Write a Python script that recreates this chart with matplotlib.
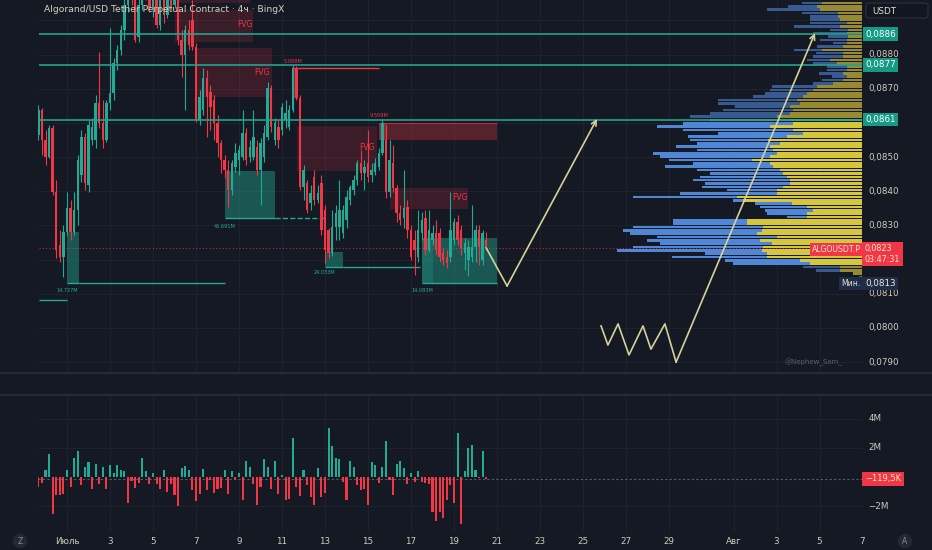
import numpy as np
import matplotlib
matplotlib.use('Agg')
import matplotlib.pyplot as plt
from matplotlib.patches import Rectangle, FancyBboxPatch
from matplotlib.transforms import blended_transform_factory as btf
from matplotlib.lines import Line2D

plt.rcParams['font.family'] = ['DejaVu Sans']

# ---------------- data ----------------
opens = [.08565, .08638, .08550, .08500, .08585, .08398, .08243, .08208, .08281, .08351,
         .08281, .08345, .08448, .08559, .08419, .08550, .08550, .08659, .08600, .08550,
         .08659, .08688, .08776, .08814, .08872, .08945, .09004, .08960, .08852, .08945,
         .09019, .08975, .08937, .08989, .08887, .08960, .08916, .08975, .08945, .08989,
         .08843, .08799, .08872, .08901, .08822, .08609, .08638, .08732, .08691, .08667,
         .08600, .08541, .08492, .08462, .08404, .08471, .08492, .08500, .08571, .08500,
         .08500, .08530, .08462, .08500, .08559, .08702, .08550, .08588, .08579, .08609,
         .08588, .08638, .08761, .08673, .08413, .08424, .08366, .08442, .08375, .08424,
         .08345, .08287, .08219, .08296, .08296, .08278, .08316, .08375, .08404, .08433,
         .08483, .08454, .08483, .08448, .08457, .08471, .08512, .08550, .08398, .08483,
         .08410, .08337, .08322, .08354, .08287, .08258, .08208, .08278, .08322, .08228,
         .08258, .08278, .08278, .08219, .08208, .08208, .08258, .08310, .08287, .08219,
         .08199, .08208, .08237, .08287, .08199, .08258]
highs = [.08653, .08644, .08579, .08594, .08594, .08433, .08287, .08301, .08398, .08375,
         .08398, .08506, .08579, .08571, .08609, .08615, .08682, .08808, .08667, .08667,
         .08878, .08790, .08828, .08887, .08989, .09048, .09062, .09019, .09004, .09062,
         .09062, .09033, .09048, .09033, .09004, .09019, .09033, .09048, .09048, .09033,
         .08872, .08887, .08901, .08960, .08834, .08697, .08761, .08755, .08711, .08682,
         .08623, .08550, .08506, .08492, .08492, .08541, .08536, .08638, .08585, .08550,
         .08638, .08550, .08556, .08594, .08720, .08711, .08615, .08609, .08659, .08667,
         .08653, .08770, .08767, .08682, .08477, .08433, .08419, .08462, .08419, .08448,
         .08360, .08293, .08345, .08360, .08433, .08360, .08404, .08419, .08448, .08492,
         .08521, .08492, .08579, .08483, .08498, .08527, .08609, .08594, .08550, .08536,
         .08419, .08360, .08462, .08375, .08301, .08287, .08345, .08339, .08345, .08345,
         .08301, .08316, .08293, .08234, .08228, .08398, .08322, .08331, .08301, .08263,
         .08258, .08360, .08301, .08301, .08287, .08281]
lows = [.08550, .08506, .08477, .08498, .08389, .08205, .08193, .08149, .08272, .08258,
        .08272, .08301, .08427, .08404, .08398, .08536, .08527, .08585, .08527, .08544,
        .08638, .08667, .08755, .08799, .08843, .08925, .08945, .08837, .08837, .08931,
        .08960, .08925, .08910, .08878, .08872, .08893, .08907, .08931, .08937, .08828,
        .08735, .08638, .08814, .08814, .08603, .08594, .08623, .08559, .08579, .08550,
        .08500, .08454, .08439, .08354, .08389, .08457, .08448, .08492, .08477, .08486,
        .08492, .08448, .08360, .08486, .08550, .08574, .08536, .08527, .08565, .08585,
        .08579, .08632, .08667, .08404, .08375, .08337, .08345, .08360, .08366, .08272,
        .08190, .08205, .08211, .08258, .08258, .08263, .08293, .08360, .08389, .08419,
        .08433, .08404, .08427, .08427, .08448, .08462, .08506, .08380, .08383, .08398,
        .08310, .08301, .08293, .08263, .08199, .08155, .08193, .08258, .08214, .08222,
        .08243, .08214, .08193, .08184, .08176, .08193, .08243, .08243, .08214, .08170,
        .08152, .08193, .08193, .08184, .08184, .08228]
closes = [.08638, .08550, .08500, .08585, .08398, .08228, .08208, .08281, .08351, .08281,
          .08345, .08492, .08559, .08424, .08594, .08588, .08659, .08600, .08550, .08659,
          .08688, .08776, .08814, .08872, .08945, .09004, .08960, .08843, .08945, .09019,
          .08975, .08937, .08989, .08887, .08960, .08916, .08975, .08945, .08989, .08843,
          .08799, .08872, .08828, .08822, .08609, .08676, .08732, .08676, .08647, .08600,
          .08541, .08492, .08462, .08404, .08483, .08512, .08521, .08571, .08492, .08530,
          .08559, .08462, .08541, .08571, .08702, .08588, .08600, .08550, .08647, .08629,
          .08638, .08761, .08673, .08413, .08462, .08345, .08395, .08375, .08395, .08287,
          .08228, .08219, .08296, .08337, .08345, .08345, .08383, .08413, .08433, .08483,
          .08454, .08471, .08442, .08462, .08483, .08512, .08600, .08398, .08492, .08410,
          .08337, .08316, .08351, .08287, .08208, .08228, .08287, .08316, .08228, .08287,
          .08278, .08228, .08208, .08199, .08190, .08287, .08310, .08258, .08234, .08249,
          .08237, .08237, .08287, .08237, .08278, .08234]

# volume delta (millions)
delta = [-0.7, -0.4, 0.5, 1.6, -2.55, -1.2, -1.2, -1.15, 0.5, -0.7,
         1.3, 1.8, -0.55, 0.7, 1.0, -0.8, 0.9, -0.45, 0.7, -0.8,
         0.85, 0.25, 0.85, 0.5, 0.4, -1.75, -0.3, -0.75, -0.4, 1.3,
         0.4, -0.5, 0.25, -0.45, -0.8, 0.5, -1.0, -0.45, -1.2, -2.0,
         0.65, 0.75, 0.5, -0.9, -1.65, -1.15, 0.55, -0.9, -0.2, -1.1,
         -0.8, -0.75, 0.45, -1.15, 0.4, -0.2, 0.25, -1.55, 1.1, 0.7,
         -0.5, -1.9, -0.7, 1.2,
         0.7, -0.8, 1.1, -1.15, 0.15, -1.55, -1.5, 2.7, -0.7, -1.3,
         0.5, -0.55, -1.4, -1.95, 0.6, -1.4, -1.1, 3.35, 2.1, 1.3,
         1.25, -0.35, -1.6, 1.1, 0.7, -0.55, -0.9, -0.8, -1.9, 1.0,
         0.85, -0.4, 0.7, 2.45, -0.2, -1.25, 0.9, 1.1, 0.65, -0.5,
         0.25, -0.35, 0.4, -0.35, -0.4, -0.5, -2.4, -3.0, -2.4, -2.8,
         -1.6, -0.55, -1.75, 3.0, -3.25, 0.4, 2.0, 2.2, 0.45, -0.1,
         1.75, -0.1195]

# volume profile rows (top -> bottom), relative volumes
vp_total = [60, 74, 95, 60, 52, 52, 52, 68, 32, 49, 34, 42, 29, 45, 68, 46, 49, 55, 49, 35,
            35, 43, 30, 40, 49, 90, 92, 97, 109, 144, 144, 127, 139, 152, 172, 152, 179, 205, 179, 144,
            174, 172, 165, 186, 165, 209, 202, 193, 169, 197, 165, 152, 162, 169, 157, 160, 135, 182, 229, 129,
            107, 102, 97, 95, 75, 189, 189, 229, 239, 232, 205, 215, 202, 229, 245, 157, 190, 137, 129, 59,
            46, 9, 3]
vp_down = [40, 45, 42, 24, 24, 22, 15, 22, 14, 15, 14, 15, 15, 19, 40, 19, 19, 32, 25, 15,
           15, 19, 15, 19, 29, 45, 49, 55, 59, 65, 62, 72, 69, 72, 85, 72, 69, 92, 69, 59,
           75, 94, 82, 92, 89, 85, 92, 110, 92, 89, 82, 79, 75, 72, 72, 79, 85, 85, 125, 119,
           70, 55, 49, 55, 55, 115, 115, 99, 100, 105, 85, 102, 90, 99, 100, 95, 95, 62, 52, 22,
           22, 9, 1]
vp_top, vp_bottom = 0.08951, 0.08149
va_low, va_high = 0.0818, 0.0861

levels = [0.0886, 0.0877, 0.0861]
last_price = 0.0823
low_price = 0.0813
price_ticks = [0.0880, 0.0870, 0.0850, 0.0840, 0.0830, 0.0810, 0.0800, 0.0790]
grid_prices = [0.0790, 0.0800, 0.0810, 0.0820, 0.0830, 0.0840, 0.0850, 0.0860, 0.0870, 0.0880, 0.0890]
date_days = [0, 2, 4, 6, 8, 10, 12, 14, 16, 18, 20, 22, 24, 26, 28, 31, 33, 35, 37]
date_labels = ['Июль', '3', '5', '7', '9', '11', '13', '15', '17', '19', '21', '23', '25', '27', '29',
               'Авг', '3', '5', '7']
vol_ticks = [4, 2, -2]
vol_labels = ['4M', '2M', '\u22122M']

# drawings: (day, price)
fvg_boxes = [(5.12, 8.51, 0.08951, 0.0898), (5.02, 8.65, 0.08837, 0.08931),
             (6.05, 9.53, 0.08676, 0.08819), (10.70, 14.42, 0.08460, 0.08591),
             (15.02, 18.65, 0.08348, 0.08410)]
fvg_labels = [(8.28, 0.08887), (9.07, 0.08749), (13.95, 0.08527), (18.28, 0.08383)]
ob_red = (14.51, 20.0, 0.08550, 0.08600)
green_boxes = [(7.35, 9.67, 0.08322, 0.08459), (0.0, 0.56, 0.08132, 0.08281),
               (12.0, 12.84, 0.08178, 0.08222), (16.51, 20.0, 0.08132, 0.08263)]
green_lines = [(9.67, 12.0, 0.08322, '--'), (0.56, 7.35, 0.08132, '-'),
               (12.84, 16.42, 0.08178, '-'), (-1.3, 0.0, 0.08082, '-')]
vol_tags = [(0.0, 0.08111, '14.727M'), (7.35, 0.08298, '45.691M'),
            (12.0, 0.08161, '24.033M'), (16.51, 0.08111, '14.083M')]
path1_t = [19.5, 20.47, 24.65]
path1_p = [0.08234, 0.08123, 0.08612]
path2_t = [24.84, 25.16, 25.63, 26.14, 26.79, 27.16, 27.81, 28.33, 34.79]
path2_p = [0.08006, 0.07950, 0.08012, 0.07921, 0.08006, 0.07938, 0.08012, 0.07900, 0.08863]

# ---------------- style ----------------
W, H = 932, 550
BG = '#151924'
GRID = '#1e222d'
UP = '#22ab94'
DN = '#f23645'
TXT = '#cfcdbd'
TEAL = '#22a38e'
ARROW = '#d6d19a'
PX_PER_DAY = 21.5
XMIN, XMAX = -29 / PX_PER_DAY, 795 / PX_PER_DAY

fig = plt.figure(figsize=(W / 100, H / 100), dpi=100, facecolor=BG)


def fx(px):
    return px / W


def fy(py):
    return 1 - py / H


ax = fig.add_axes([fx(38), fy(373), fx(862) - fx(38), fy(0) - fy(373)])
axv = fig.add_axes([fx(38), fy(532), fx(862) - fx(38), fy(395) - fy(532)])
for a in (ax, axv):
    a.set_facecolor(BG)
    for s in a.spines.values():
        s.set_visible(False)
    a.tick_params(left=False, bottom=False, labelleft=False, labelbottom=False)
    a.set_xlim(XMIN, XMAX)
    for d in date_days:
        a.axvline(d, color=GRID, lw=0.8, zorder=0)
ax.set_ylim(0.078682, 0.08960)
axv.set_ylim(-3.77, 5.62)
for p in grid_prices:
    ax.axhline(p, color=GRID, lw=0.8, zorder=0)
for v in vol_ticks:
    axv.axhline(v, color=GRID, lw=0.8, zorder=0)

# pane separators
for yy in (373, 395):
    fig.add_artist(Line2D([0, 1], [fy(yy), fy(yy)], color='#2a2e39', lw=1.2))

n = len(closes)
t = -4 / 3 + np.arange(n) / 6
o = np.array(opens)
c = np.array(closes)
cols = [UP if cc >= oo else DN for oo, cc in zip(o, c)]

# volume profile
vp_prices = np.linspace(vp_top, vp_bottom, len(vp_total))
row_h = (vp_top - vp_bottom) / (len(vp_total) - 1)
in_va = (vp_prices >= va_low) & (vp_prices <= va_high)
blue_c = ['#4f86d6' if v else '#385a8f' for v in in_va]
yel_c = ['#d6c63c' if v else '#978a33' for v in in_va]
ax.barh(vp_prices, -np.array(vp_total) / PX_PER_DAY, left=XMAX, height=row_h * 0.78,
        color=blue_c, zorder=2, linewidth=0)
ax.barh(vp_prices, -np.array(vp_down) / PX_PER_DAY, left=XMAX, height=row_h * 0.78,
        color=yel_c, zorder=2, linewidth=0)

# boxes
for x0, x1, p0, p1 in fvg_boxes:
    ax.add_patch(Rectangle((x0, p0), x1 - x0, p1 - p0, fc=DN, alpha=0.17, ec='none', zorder=1))
for x, p in fvg_labels:
    ax.text(x, p, 'FVG', color=DN, fontsize=5.5, ha='center', va='center', zorder=5)
x0, x1, p0, p1 = ob_red
ax.add_patch(Rectangle((x0, p0), x1 - x0, p1 - p0, fc=DN, alpha=0.30, ec='none', zorder=1))
ax.add_patch(Rectangle((x0, p0), 0.37, p1 - p0, fc=DN, alpha=0.35, ec='none', zorder=1))
ax.hlines(p1, x0, x1, color=DN, lw=0.8, alpha=0.6, zorder=1)
ax.add_patch(Rectangle((10.47, 0.08673), 0.23, 0.00088, fc=DN, alpha=0.45, ec='none', zorder=1))
ax.hlines(0.08761, 10.47, 14.51, color=DN, lw=1.0, zorder=4)
ax.text(10.5, 0.08781, '5.088M', color=DN, fontsize=3.6, ha='center', va='center')
ax.text(14.5, 0.08623, '9.509M', color=DN, fontsize=3.6, ha='center', va='center')

for i, (x0, x1, p0, p1) in enumerate(green_boxes):
    ax.add_patch(Rectangle((x0, p0), x1 - x0, p1 - p0, fc=UP, alpha=0.42, ec='none', zorder=2))
    ax.hlines(p0, x0, x1, color=UP, lw=1.0, zorder=2)
ax.add_patch(Rectangle((16.51, 0.08132), 0.5, 0.00131, fc=UP, alpha=0.25, ec='none', zorder=2))
for x0, x1, p, ls in green_lines:
    ax.hlines(p, x0, x1, color=UP, lw=1.0, linestyles=ls, zorder=2)
for x, p, s in vol_tags:
    ax.text(x, p, s, color=UP, fontsize=3.6, ha='center', va='center')

# candles
ax.vlines(t, lows, highs, colors=cols, lw=0.8, zorder=3)
ax.bar(t, c - o, bottom=o, width=0.115, color=cols, zorder=3, linewidth=0)

# levels and current price
ax.hlines(levels, -1.3, XMAX, color=TEAL, lw=1.2, zorder=6)
ax.hlines(last_price + 0.00004, -1.3, XMAX, color=DN, lw=0.8, linestyles=(0, (1, 2)), alpha=0.7, zorder=1)

# projection drawings
ax.plot(path1_t[:-1], path1_p[:-1], color=ARROW, lw=1.2, zorder=7)
ax.annotate('', xy=(path1_t[-1], path1_p[-1]), xytext=(path1_t[-2], path1_p[-2]),
            arrowprops=dict(arrowstyle='->', color=ARROW, lw=1.2, mutation_scale=9,
                            shrinkA=0, shrinkB=0), zorder=7)
ax.plot(path2_t[:-1], path2_p[:-1], color=ARROW, lw=1.2, zorder=7)
ax.annotate('', xy=(path2_t[-1], path2_p[-1]), xytext=(path2_t[-2], path2_p[-2]),
            arrowprops=dict(arrowstyle='->', color=ARROW, lw=1.2, mutation_scale=9,
                            shrinkA=0, shrinkB=0), zorder=7)

ax.text(36.05, 0.07900, '@Nephew_Sam_', color='#5d606b', fontsize=5, ha='right', va='center')

# volume delta pane
vcols = [UP if v >= 0 else DN for v in delta]
axv.bar(t, delta, width=0.1, color=vcols, linewidth=0, zorder=3)
axv.axhline(delta[-1], color='#787b86', lw=0.8, ls=(0, (2, 2)), alpha=0.7, zorder=1)

# right axis labels
tr = btf(ax.transAxes, ax.transData)
trv = btf(axv.transAxes, axv.transData)
XL = 1.0075
for p in price_ticks:
    ax.text(XL, p, f'{p:.4f}'.replace('.', ','), transform=tr, color=TXT, fontsize=6.3,
            ha='left', va='center', clip_on=False)
for p in levels:
    ax.text(1.0035, p, f'{p:.4f}'.replace('.', ','), transform=tr, color='white', fontsize=6.3,
            ha='left', va='center', clip_on=False,
            bbox=dict(boxstyle='square,pad=0.25', fc='#159a85', ec='none'))
ax.text(0.9985, last_price, 'ALGOUSDT.P', transform=tr, color='#f0ecd0', fontsize=5.6,
        ha='right', va='center', clip_on=False,
        bbox=dict(boxstyle='square,pad=0.3', fc=DN, ec='none'))
ax.text(1.0035, last_price - 0.00013, '0,0823\n03:47:31', transform=tr, color='#f0ecd0',
        fontsize=5.8, ha='left', va='center', linespacing=1.25, clip_on=False,
        bbox=dict(boxstyle='square,pad=0.3', fc=DN, ec='none'))
ax.text(0.9985, low_price, 'Мин.', transform=tr, color='#e0ddc8', fontsize=5.6,
        ha='right', va='center', clip_on=False,
        bbox=dict(boxstyle='square,pad=0.3', fc='#1f2d48', ec='none'))
ax.text(1.0035, low_price, '0,0813', transform=tr, color='#f0ecd0', fontsize=6.3,
        ha='left', va='center', clip_on=False,
        bbox=dict(boxstyle='square,pad=0.25', fc='#1f2d48', ec='none'))

for v, s in zip(vol_ticks, vol_labels):
    axv.text(1.0075, v, s, transform=trv, color=TXT, fontsize=6.3, ha='left', va='center',
             clip_on=False)
axv.text(1.0035, delta[-1], '\u2212119,5K', transform=trv, color='#f0ecd0', fontsize=6.0,
         ha='left', va='center', clip_on=False,
         bbox=dict(boxstyle='square,pad=0.3', fc=DN, ec='none'))

# date labels
trd = btf(axv.transData, axv.transAxes)
for d, s in zip(date_days, date_labels):
    axv.text(d, -0.066, s, transform=trd, color=TXT, fontsize=6.3, ha='center', va='center',
             clip_on=False)

# title and small ui elements
fig.text(fx(44), fy(10), 'Algorand/USD Tether Perpetual Contract · 4ч · BingX', color='#d6d3bd',
         fontsize=6.6, ha='left', va='center')
fig.add_artist(FancyBboxPatch((fx(866), fy(18)), fx(62), 15 / H,
                              boxstyle='round,pad=0,rounding_size=0.004', fc='#121620',
                              ec='#2e3240', lw=0.8, transform=fig.transFigure))
fig.text(fx(872), fy(11), 'USDT', color='#e0ddd0', fontsize=6.3, ha='left', va='center')
for xx, s in ((20, 'Z'), (905, 'A')):
    fig.text(fx(xx), fy(541), s, color='#8a8d96', fontsize=5.5, ha='center', va='center',
             bbox=dict(boxstyle='circle,pad=0.35', fc='#242833', ec='none'))

fig.savefig('out.png', dpi=100, facecolor=BG)
